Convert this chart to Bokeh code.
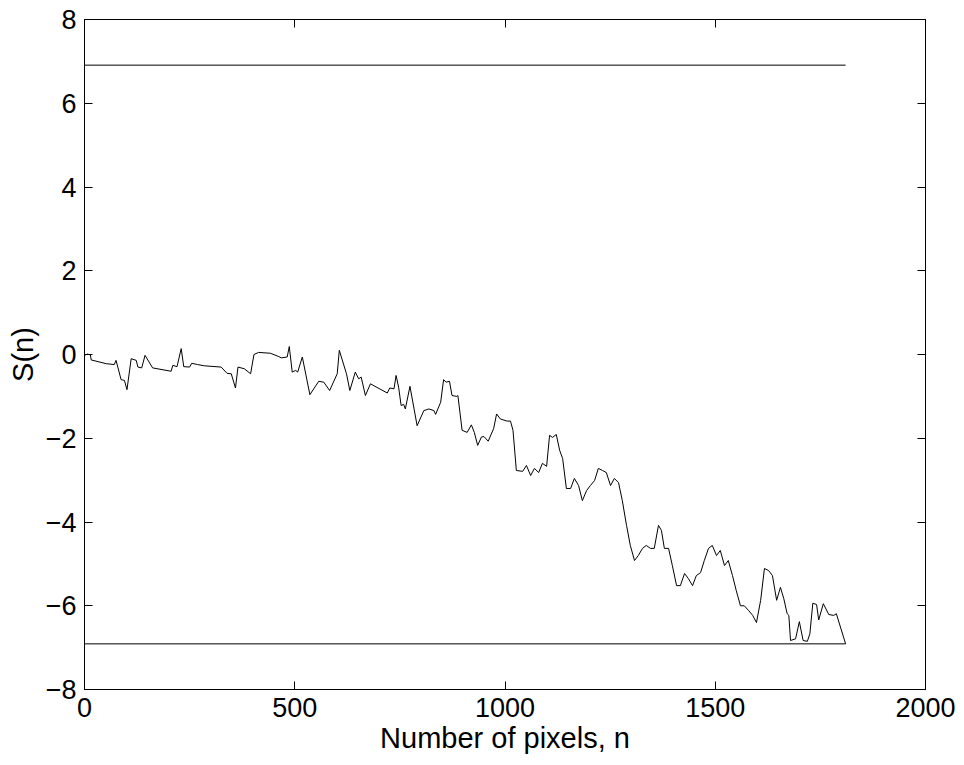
from bokeh.plotting import figure
from bokeh.models import Range1d, LinearAxis, FixedTicker
from bokeh.embed import file_html
from bokeh.resources import INLINE

# Data
n_vals = [0, 7, 14, 16, 52, 71, 75, 87, 95, 101, 111, 123, 127, 136, 144, 162, 206, 210, 220, 230,
          236, 250, 255, 269, 285, 325, 339, 349, 359, 365, 380, 395, 403, 414, 442, 462, 468, 482,
          487, 494, 502, 507, 518, 536, 557, 569, 583, 601, 606, 623, 631, 644, 652, 658, 668, 680,
          720, 726, 736, 741, 747, 753, 759, 763, 774, 791, 807, 819, 831, 835, 847, 854, 860, 868,
          874, 885, 888, 898, 910, 920, 927, 935, 944, 950, 960, 973, 980, 989, 1005, 1013, 1019,
          1027, 1042, 1051, 1061, 1070, 1080, 1089, 1099, 1106, 1113, 1122, 1130, 1137, 1146, 1156,
          1165, 1175, 1184, 1194, 1203, 1213, 1222, 1232, 1241, 1251, 1260, 1270, 1279, 1289, 1298,
          1308, 1317, 1327, 1336, 1346, 1355, 1365, 1372, 1379, 1389, 1398, 1408, 1417, 1427, 1436,
          1446, 1455, 1465, 1474, 1484, 1493, 1503, 1512, 1522, 1531, 1541, 1550, 1560, 1569, 1579,
          1589, 1598, 1608, 1617, 1627, 1636, 1646, 1655, 1663, 1671, 1675, 1679, 1691, 1700, 1709,
          1719, 1725, 1732, 1741, 1746, 1757, 1770, 1782, 1788, 1810]
s_vals = [-0.02, 0.01, -0.01, -0.13, -0.22, -0.24, -0.14, -0.60, -0.62, -0.84, -0.10, -0.14, -0.30,
          -0.32, -0.02, -0.32, -0.40, -0.26, -0.29, 0.14, -0.29, -0.30, -0.21, -0.24, -0.27, -0.30,
          -0.45, -0.46, -0.80, -0.30, -0.34, -0.46, 0.00, 0.05, 0.03, -0.05, -0.08, -0.06, 0.19,
          -0.42, -0.38, -0.42, -0.06, -0.96, -0.64, -0.66, -0.86, -0.46, 0.10, -0.46, -0.86, -0.42,
          -0.58, -0.54, -0.98, -0.70, -0.92, -0.80, -0.82, -0.50, -0.78, -1.22, -1.19, -1.30, -0.76,
          -1.70, -1.34, -1.30, -1.34, -1.43, -1.14, -0.60, -0.66, -0.64, -0.98, -1.00, -0.98, -1.81,
          -1.86, -1.68, -1.86, -2.17, -1.97, -1.96, -2.07, -1.77, -1.42, -1.54, -1.59, -1.59, -1.81,
          -2.77, -2.79, -2.65, -2.89, -2.72, -2.82, -2.60, -2.67, -1.93, -1.98, -1.91, -2.29, -2.48,
          -3.20, -3.20, -2.96, -3.13, -3.49, -3.25, -3.13, -3.01, -2.72, -2.77, -2.82, -3.13, -2.96,
          -3.06, -3.49, -4.08, -4.56, -4.92, -4.80, -4.63, -4.56, -4.63, -4.63, -4.08, -4.20, -4.63,
          -4.63, -5.04, -5.52, -5.52, -5.23, -5.35, -5.52, -5.28, -5.21, -4.92, -4.63, -4.56, -4.80,
          -4.68, -5.04, -4.92, -5.28, -5.64, -6.00, -6.00, -6.11, -6.23, -6.40, -5.87, -5.11, -5.16,
          -5.28, -5.87, -5.56, -5.83, -6.19, -6.23, -6.83, -6.79, -6.38, -6.83, -6.85, -6.67, -5.94,
          -5.97, -6.34, -5.95, -6.21, -6.23, -6.19, -6.91]

threshold_n = [0, 1810]
upper_threshold = [6.91, 6.91]
lower_threshold = [-6.91, -6.91]

x_ticks = [0, 500, 1000, 1500, 2000]
y_ticks = [-8, -6, -4, -2, 0, 2, 4, 6, 8]
y_tick_labels = {t: (str(t).replace("-", "\u2212")) for t in y_ticks}

FONT = "Liberation Sans"

p = figure(width=964, height=765, output_backend="svg", toolbar_location=None,
           x_range=Range1d(0, 2000), y_range=Range1d(-8, 8),
           min_border_left=84, min_border_right=39, min_border_top=19, min_border_bottom=76)
p.grid.visible = False
p.outline_line_color = "black"
p.outline_line_width = 1
p.background_fill_color = "white"
p.border_fill_color = "white"

p.line(n_vals, s_vals, line_color="black", line_width=1)
p.line(threshold_n, upper_threshold, line_color="black", line_width=1)
p.line(threshold_n, lower_threshold, line_color="black", line_width=1)

def style_axis(ax, ticks, show_labels):
    ax.ticker = FixedTicker(ticks=ticks)
    ax.major_tick_in = 8
    ax.major_tick_out = 0
    ax.minor_tick_line_color = None
    ax.axis_line_color = "black"
    ax.major_tick_line_color = "black"
    ax.major_label_text_font = FONT
    ax.axis_label_text_font = FONT
    ax.axis_label_text_font_style = "normal"
    ax.axis_label_text_color = "black"
    if show_labels:
        ax.major_label_text_color = "black"
        ax.major_label_text_font_size = "27px"
        ax.axis_label_text_font_size = "29px"
    else:
        ax.major_label_text_color = None
        ax.major_label_standoff = 0

xa = p.xaxis[0]
style_axis(xa, x_ticks, True)
xa.axis_label = "Number of pixels, n"
xa.major_label_standoff = 8
xa.axis_label_standoff = 2

ya = p.yaxis[0]
style_axis(ya, y_ticks, True)
ya.axis_label = "S(n)"
ya.major_label_overrides = y_tick_labels
ya.major_label_standoff = 8
ya.axis_label_standoff = 4

ra = LinearAxis()
style_axis(ra, y_ticks, False)
p.add_layout(ra, "right")
ta = LinearAxis()
style_axis(ta, x_ticks, False)
p.add_layout(ta, "above")

open("out.html", "w").write(file_html(p, INLINE))
